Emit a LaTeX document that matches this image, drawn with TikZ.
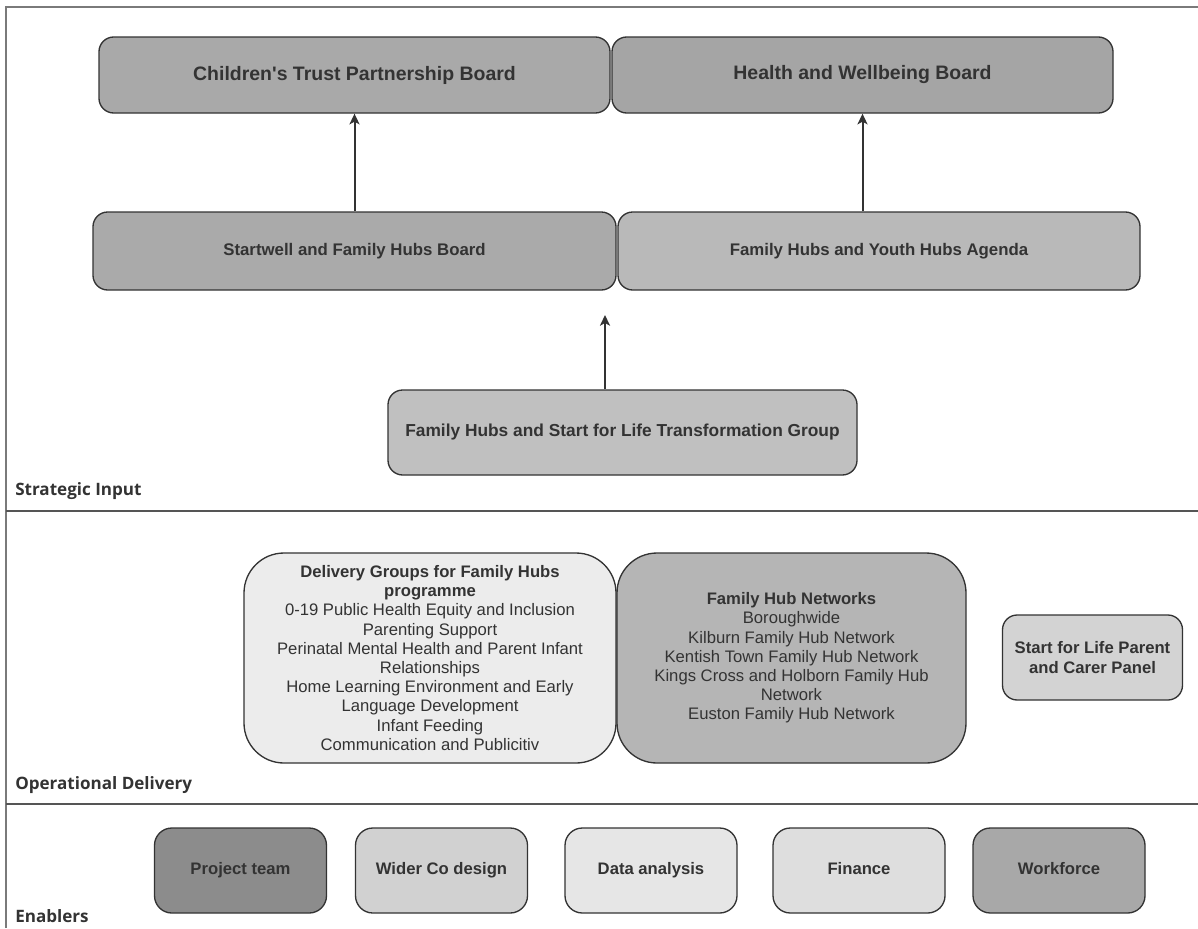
\documentclass[tikz,border=0pt]{standalone}
\usepackage{fontspec}
\usetikzlibrary{arrows.meta}
\newfontfamily\arialf{Liberation Sans}
\newfontfamily\opensf{Open Sans}
\definecolor{ink}{HTML}{333333}
\definecolor{frameg}{HTML}{7A7A7A}
\definecolor{sepg}{HTML}{555555}
\definecolor{fctpb}{HTML}{A9A9A9}
\definecolor{fhwb}{HTML}{A5A5A5}
\definecolor{fsfhb}{HTML}{AAAAAA}
\definecolor{ffhyha}{HTML}{B9B9B9}
\definecolor{ffhs}{HTML}{C0C0C0}
\definecolor{fdg}{HTML}{ECECEC}
\definecolor{ffhn}{HTML}{B5B5B5}
\definecolor{fsfl}{HTML}{D3D3D3}
\definecolor{fpt}{HTML}{8C8C8C}
\definecolor{fwcd}{HTML}{D1D1D1}
\definecolor{fda}{HTML}{E6E6E6}
\definecolor{ffin}{HTML}{DEDEDE}
\definecolor{fwf}{HTML}{A8A8A8}
\tikzset{
  boxst/.style={draw=ink, line width=1pt, rounded corners=11pt, inner sep=0pt,
    text=ink, align=center, font=\arialf\bfseries},
  bigbox/.style={boxst, rounded corners=30pt},
  enbox/.style={boxst, rounded corners=13pt, minimum width=172*0.75pt, minimum height=85*0.75pt,
    text height=9pt, text depth=2.6pt,
    font=\arialf\bfseries\fontsize{12.5}{15}\selectfont},
  arr/.style={draw=ink, line width=1.5pt, -{Stealth[length=8pt,width=7.5pt,inset=2pt]}},
  seclabel/.style={anchor=west, inner sep=0pt, text=ink, font=\opensf\bfseries\fontsize{12.8}{14}\selectfont},
}
\begin{document}
\begin{tikzpicture}[x=0.75pt, y=-0.75pt]
\useasboundingbox (0,0) rectangle (1198,928);
% frame and separators
\draw[frameg, line width=1.3pt] (6,928) -- (6,7) -- (1198,7);
\draw[sepg, line width=1.5pt] (6,511) -- (1198,511);
\draw[sepg, line width=1.5pt] (6,804) -- (1198,804);
% strategic input
\node[boxst, fill=fctpb, minimum width=511*0.75pt, minimum height=76*0.75pt,
  font=\arialf\bfseries\fontsize{14.6}{17}\selectfont] (ctpb) at (354.5,75) {Children's Trust Partnership Board};
\node[boxst, fill=fhwb, minimum width=501*0.75pt, minimum height=76*0.75pt,
  font=\arialf\bfseries\fontsize{14.6}{17}\selectfont] (hwb) at (862.5,75) {Health and Wellbeing Board};
\node[boxst, fill=fsfhb, minimum width=523*0.75pt, minimum height=78*0.75pt,
  font=\arialf\bfseries\fontsize{12.6}{15}\selectfont] (sfhb) at (354.5,251) {Startwell and Family Hubs Board};
\node[boxst, fill=ffhyha, minimum width=522*0.75pt, minimum height=78*0.75pt,
  font=\arialf\bfseries\fontsize{12.6}{15}\selectfont] (fhyha) at (879,251) {Family Hubs and Youth Hubs Agenda};
\node[boxst, fill=ffhs, minimum width=469*0.75pt, minimum height=85*0.75pt,
  font=\arialf\bfseries\fontsize{13}{15}\selectfont] (fhs) at (622.5,432.5) {Family Hubs and Start for Life Transformation Group};
\draw[arr] (sfhb.north) -- (ctpb.south);
\draw[arr] (fhyha.north -| hwb.south) -- (hwb.south);
\coordinate (a3e) at (605,315);
\draw[arr] (fhs.north -| a3e) -- (a3e);
\node[seclabel] (lsi) at (15,491) {Strategic Input};
% operational delivery
\node[bigbox, fill=fdg, minimum width=372*0.75pt, minimum height=210*0.75pt,
  font=\arialf\fontsize{12.5}{14.4}\selectfont] (dg) at (430,658)
  {{\bfseries Delivery Groups for Family Hubs}\\{\bfseries programme}\\0-19 Public Health Equity and Inclusion\\Parenting Support\\Perinatal Mental Health and Parent Infant\\Relationships\\Home Learning Environment and Early\\Language Development\\Infant Feeding\\Communication and Publicitiv};
\node[bigbox, fill=ffhn, minimum width=349*0.75pt, minimum height=210*0.75pt,
  font=\arialf\fontsize{12.5}{14.4}\selectfont] (fhn) at (791.5,658)
  {{\bfseries Family Hub Networks}\\Boroughwide\\Kilburn Family Hub Network\\Kentish Town Family Hub Network\\Kings Cross and Holborn Family Hub\\Network\\Euston Family Hub Network};
\node[boxst, fill=fsfl, minimum width=180*0.75pt, minimum height=85*0.75pt,
  font=\arialf\bfseries\fontsize{12.5}{15}\selectfont] (sfl) at (1092.5,657.5) {Start for Life Parent\\and Carer Panel};
\node[seclabel] (lod) at (15,785) {Operational Delivery};
% enablers
\node[enbox, fill=fpt] (pt) at (240.5,870.5) {Project team};
\node[enbox, fill=fwcd] (wcd) at (441.5,870.5) {Wider Co design};
\node[enbox, fill=fda] (da) at (651,870.5) {Data analysis};
\node[enbox, fill=ffin] (fin) at (859,870.5) {Finance};
\node[enbox, fill=fwf] (wf) at (1059,870.5) {Workforce};
\node[seclabel] (len) at (15,916) {Enablers};
\end{tikzpicture}
\end{document}
